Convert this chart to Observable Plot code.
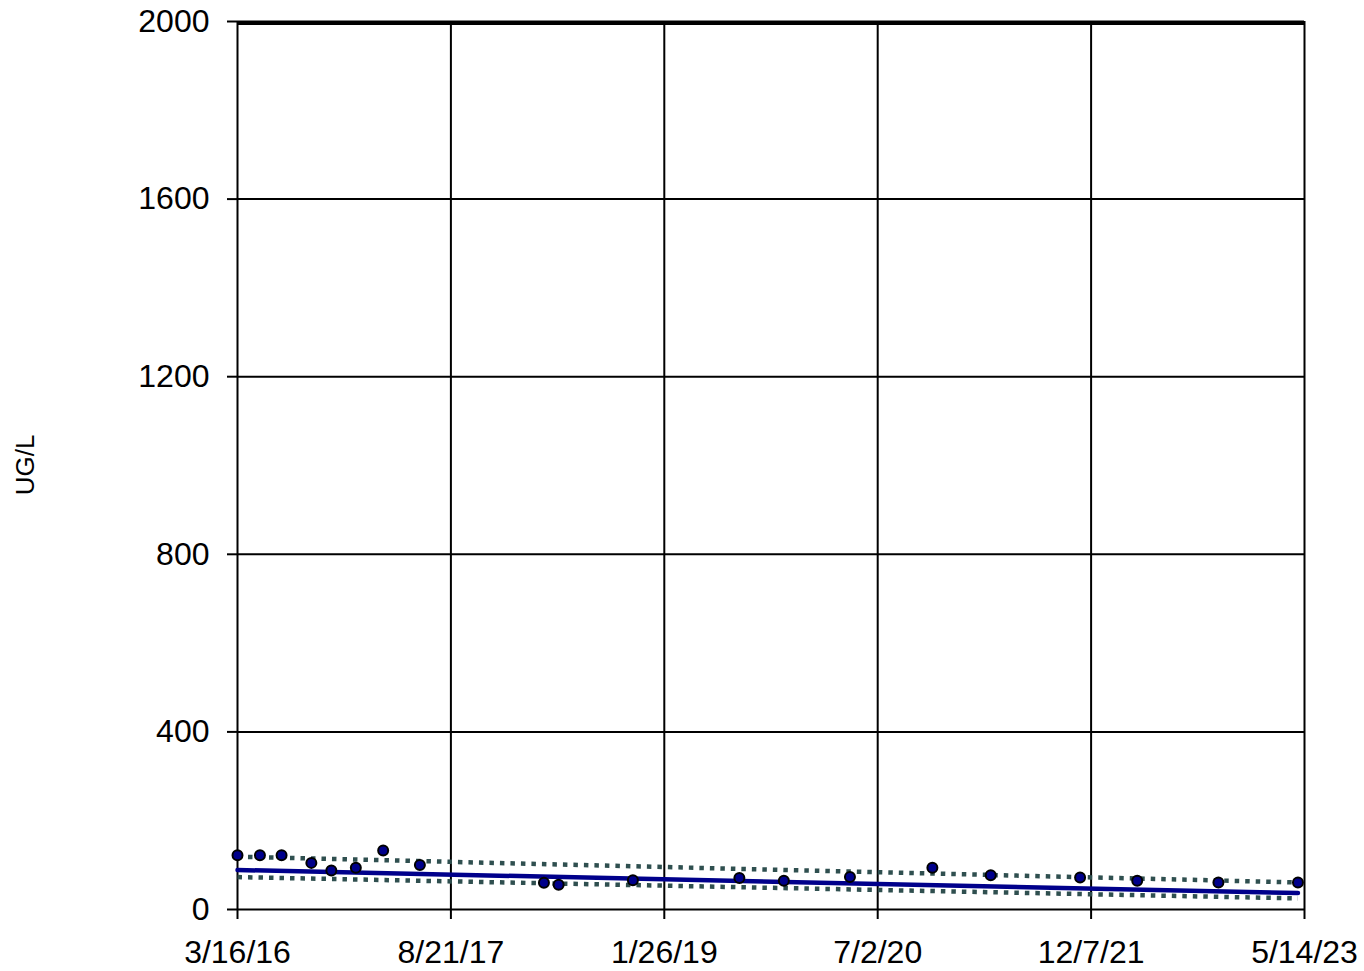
<!DOCTYPE html>
<html>
<head>
<meta charset="utf-8">
<script src="https://cdn.jsdelivr.net/npm/d3@7"></script>
<script src="https://cdn.jsdelivr.net/npm/@observablehq/plot@0.6"></script>
<style>
  html, body { margin: 0; padding: 0; background: #fff; }
  #chart { position: relative; width: 1364px; height: 971px; }
  #ylabel { position: absolute; left: 25px; top: 465px; transform: translate(-50%, -50%) rotate(-90deg);
    font-family: "Liberation Sans", Arial, sans-serif; font-size: 26px; color: #000; white-space: nowrap; }
</style>
</head>
<body>
<div id="chart"><div id="ylabel">UG/L</div></div>
<script>
// Sample dates and concentrations (UG/L)
const sampleDates = ["2016-03-16","2016-05-10","2016-07-02","2016-09-13","2016-11-01","2016-12-31","2017-03-08","2017-06-06",
  "2018-04-06","2018-05-12","2018-11-10","2019-07-29","2019-11-15","2020-04-25","2020-11-13","2021-04-05","2021-11-10",
  "2022-03-30","2022-10-15","2023-04-28"];
const sampleValues = [122, 122, 122, 105, 88, 94, 133, 100, 60, 56, 66, 71, 65, 73, 94, 77, 72, 65, 61, 61];

// Trend line (fit) and confidence bounds, at first and last sample dates
const trendDates = ["2016-03-16", "2023-04-28"];
const trendFit = [89, 37];
const trendUpper = [119, 61];
const trendLower = [73, 25];

// Axis ticks
const xTickDates = ["2016-03-16","2017-08-21","2019-01-26","2020-07-02","2021-12-07","2023-05-14"];
const yTicks = [0, 400, 800, 1200, 1600, 2000];

const parse = d3.utcParse("%Y-%m-%d");
const points = sampleDates.map((d, i) => ({date: parse(d), value: sampleValues[i]}));
const trend = trendDates.map((d, i) => ({date: parse(d), fit: trendFit[i], upper: trendUpper[i], lower: trendLower[i]}));
const xTicks = xTickDates.map(parse);
const fmt = d => `${d.getUTCMonth() + 1}/${d.getUTCDate()}/${String(d.getUTCFullYear()).slice(2)}`;

const chart = Plot.plot({
  width: 1364,
  height: 971,
  marginLeft: 237,
  marginRight: 60,
  marginTop: 21,
  marginBottom: 62,
  style: {fontFamily: "'Liberation Sans', Arial, sans-serif", fontSize: "32px", color: "#000", background: "#fff"},
  x: {type: "utc", domain: [xTicks[0], xTicks[xTicks.length - 1]]},
  y: {domain: [0, 2000]},
  marks: [
    Plot.ruleX(xTicks, {stroke: "#000", strokeWidth: 2}),
    Plot.ruleY(yTicks, {stroke: "#000", strokeWidth: 2}),
    Plot.ruleY([2000], {stroke: "#000", strokeWidth: 4, dy: 1.5}),
    Plot.axisX({ticks: xTicks, tickFormat: fmt, tickSize: 10, tickPadding: 21, strokeWidth: 2, label: null, fontSize: 32}),
    Plot.axisY({ticks: yTicks, tickFormat: d => String(d), tickSize: 10, tickPadding: 18, strokeWidth: 2, label: null, fontSize: 32}),
    Plot.line(trend, {x: "date", y: "upper", stroke: "#2F4F4F", strokeWidth: 4.5, strokeDasharray: "4.5,6", strokeLinecap: "butt"}),
    Plot.line(trend, {x: "date", y: "lower", stroke: "#2F4F4F", strokeWidth: 4.5, strokeDasharray: "4.5,6", strokeLinecap: "butt"}),
    Plot.line(trend, {x: "date", y: "fit", stroke: "#00008B", strokeWidth: 4.5}),
    Plot.dot(points, {x: "date", y: "value", r: 5, fill: "#00008B", stroke: "#000", strokeWidth: 2})
  ]
});
document.getElementById("chart").appendChild(chart);
</script>
</body>
</html>
